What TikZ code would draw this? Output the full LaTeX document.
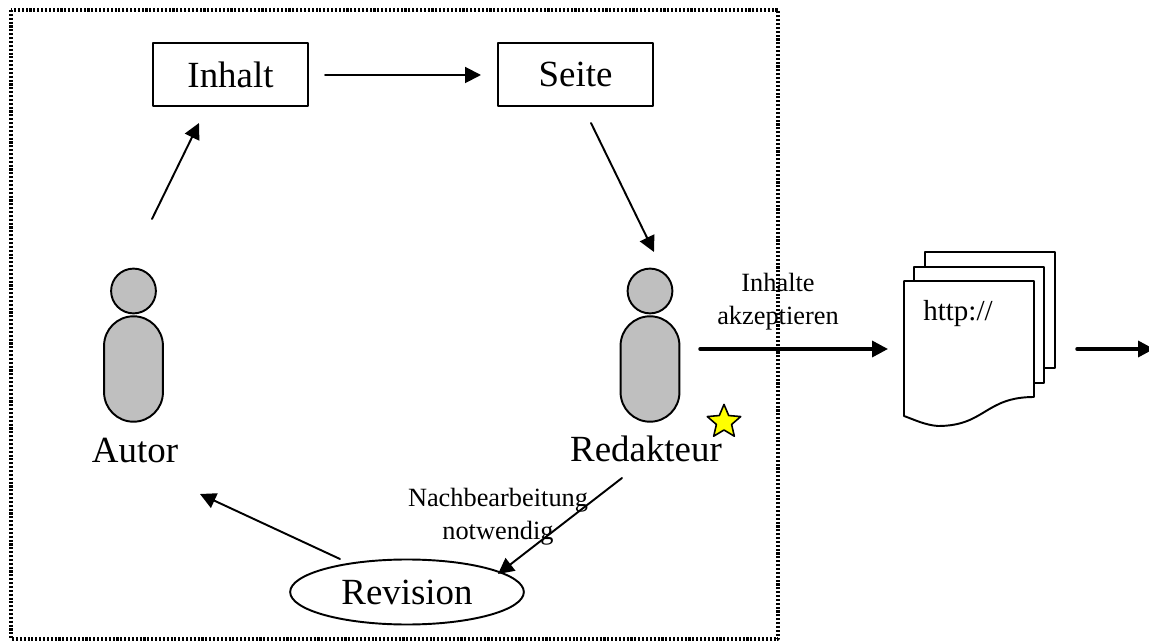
\documentclass[tikz,border=0pt]{standalone}
\usepackage{fontspec}
\setmainfont{Liberation Serif}
\usepackage{tikz}
\usetikzlibrary{arrows.meta}
\usetikzlibrary{shapes.geometric}
\usetikzlibrary{shapes.misc}
\definecolor{figgray}{rgb}{0.75,0.75,0.75}
\definecolor{staryellow}{rgb}{1,1,0}
\tikzset{
  boxnode/.style={draw=black, line width=1.1pt, minimum width=88pt, minimum height=36pt, font=\fontsize{21}{21}\selectfont},
  bignode/.style={font=\fontsize{21}{21}\selectfont},
  smallnode/.style={font=\fontsize{15}{18.7}\selectfont, align=center},
  headnode/.style={draw=black, line width=1.1pt, fill=figgray, circle, minimum size=25.5pt, inner sep=0pt},
  bodynode/.style={draw=black, line width=1.1pt, fill=figgray, rounded rectangle, rotate=90, minimum width=60pt, minimum height=33.5pt, inner sep=0pt},
  conn/.style={line width=1.1pt, -{Triangle[length=9pt, width=9pt]}},
  connthick/.style={line width=2pt, -{Triangle[length=9pt, width=9pt]}},
  pagenode/.style={draw=black, line width=1.1pt, fill=white}
}
\begin{document}
\begin{tikzpicture}[line cap=round,line join=round,x=0.02cm,y=-0.02cm]
\useasboundingbox (0,0) rectangle (1149,641);
% frame
\draw[line width=2pt, dash pattern=on 1.2pt off 1pt, line cap=butt] (11,10) rectangle (778,639);

% boxes
\node[boxnode] (inhalt) at (230.5,74.5) {Inhalt};
\node[boxnode] (seite) at (575.5,74.5) {Seite};

% people
\node[headnode] (autorhead) at (133.5,291) {};
\node[bodynode] (autorbody) at (133.5,369) {};
\node[bignode] (autor) at (135,451) {Autor};
\node[headnode] (redhead) at (650,291) {};
\node[bodynode] (redbody) at (650,369) {};
\node[bignode] (redakteur) at (646,449) {Redakteur};
\node[star, star points=5, star point ratio=2.2, draw=black, line width=0.9pt, fill=staryellow, minimum size=20pt, inner sep=0pt] (stern) at (724,422) {};

% revision
\node[ellipse, draw=black, line width=1.1pt, minimum width=133pt, minimum height=37pt, inner sep=0pt, bignode] (revision) at (407,592) {Revision};

% pages
\draw[pagenode] (925,252) rectangle (1055,368);
\draw[pagenode] (914,267) rectangle (1044,383);
\draw[pagenode] (904,281) -- (1034,281) -- (1034,397) .. controls (985,397) and (985,426) .. (938,426) .. controls (925,425) and (915,420) .. (904,416) -- cycle;
\node[font=\fontsize{16.5}{17}\selectfont, anchor=west, inner sep=0pt] (http) at (923,314) {http://};

% labels
\node[smallnode] (akzept) at (778,302) {Inhalte\\akzeptieren};
\node[smallnode] (nachb) at (498,517) {Nachbearbeitung\\notwendig};

% connectors
\coordinate (inhaltin) at (199,123);
\coordinate (autorout) at (152,219);
\coordinate (seitein) at (481,75);
\coordinate (inhaltout) at (325,75);
\coordinate (seiteout) at (591,123);
\coordinate (redin) at (654,252);
\coordinate (redout) at (622,478);
\coordinate (revin) at (498,574);
\coordinate (revout) at (340,559);
\coordinate (autorin) at (200,494);
\coordinate (akzeptout) at (700,349);
\coordinate (pagein) at (888,349);
\coordinate (pageout) at (1077,349);
\coordinate (pagerand) at (1154,349);
\draw[conn] (autorout) -- (inhaltin);
\draw[conn] (inhaltout) -- (seitein);
\draw[conn] (seiteout) -- (redin);
\draw[conn] (redout) -- (revin);
\draw[conn] (revout) -- (autorin);
\draw[connthick] (akzeptout) -- (pagein);
\draw[connthick] (pageout) -- (pagerand);
\end{tikzpicture}
\end{document}
